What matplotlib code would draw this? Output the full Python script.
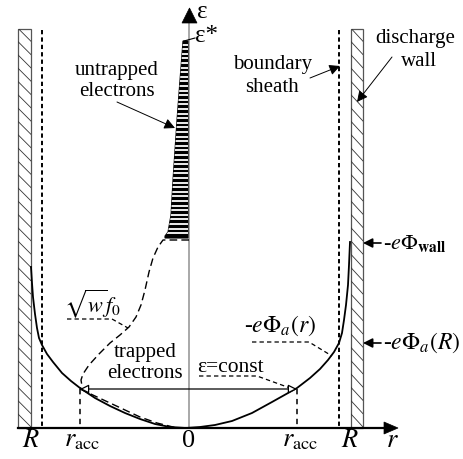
import numpy as np
import matplotlib.pyplot as plt
from matplotlib.patches import Rectangle, Polygon

plt.rcParams['font.family'] = ['Liberation Serif', 'DejaVu Serif']
plt.rcParams['mathtext.fontset'] = 'stix'

# schematic drawn in picture units (x to the right, y downwards)
# wall potential -e*Phi(r), left and right branches
pot_left_x = [31, 32, 33, 35, 37, 39, 42, 47, 53, 62, 71, 80, 95, 110, 125, 140, 155, 170, 186]
pot_left_y = [267, 283, 297, 314, 328, 338, 345, 354, 362, 373, 381, 388, 398, 406, 413, 419, 424, 427, 428]
pot_right_x = [186, 200, 215, 232, 252, 272, 297, 310, 320, 328, 334, 339, 342, 344, 346, 348, 349, 350]
pot_right_y = [428, 427, 425, 421, 413, 402, 388, 378, 369, 360, 352, 343, 333, 320, 305, 285, 265, 242]

# distribution function sqrt(w) f0 (dashed)
f0_x = [189, 163, 158, 153, 149, 145, 141, 136, 129, 120, 110, 99, 89, 83, 81, 82, 80]
f0_y = [240, 240, 247, 258, 272, 290, 305, 317, 327, 335, 343, 354, 365, 374, 380, 386, 389]
f0_low_x = [80, 95, 110, 125, 140, 157, 173, 178]
f0_low_y = [389, 396, 403, 410, 417, 423, 427, 428]

# untrapped electrons: left edge of the striped region
untr_x = [183, 180, 177, 175, 173, 171, 168, 165, 165]
untr_y = [41, 80, 120, 150, 180, 215, 232, 236, 238]

r_acc = (80, 297)
eps_const = 389
sheath_x = (42, 339)
walls_x = ((18, 31), (351, 363))
wall_top, axis_y, axis_x0 = 29, 428, 189

fig = plt.figure(figsize=(4.64, 4.59), dpi=100)
ax = fig.add_axes([0, 0, 1, 1])
ax.set_xlim(0, 464)
ax.set_ylim(459, 0)
ax.axis('off')

# walls with hatching
for x0, x1 in walls_x:
    rect = Rectangle((x0, wall_top), x1 - x0, axis_y - wall_top,
                     fill=False, ec='#555555', lw=0.9, zorder=2)
    ax.add_patch(rect)
    for y0 in np.arange(wall_top - 14, axis_y, 13.3):
        ln, = ax.plot([x0, x1], [y0, y0 + 13], color='#333333', lw=0.6, zorder=2)
        ln.set_clip_path(rect)

# sheath edges
for xs in sheath_x:
    ax.plot([xs, xs], [30, axis_y], color='black', lw=1.4,
            linestyle=(0, (2.2, 1.6)), zorder=2)

# vertical energy axis
ax.plot([axis_x0, axis_x0], [axis_y, 22], color='#999999', lw=1.2, zorder=1)
ax.add_patch(Polygon([[182, 23], [197, 23], [189.5, 8]], closed=True,
                     fc='black', ec='black', lw=0.5, zorder=5))
ax.text(197, 12, 'ε', fontsize=18, ha='left', va='center')
ax.text(195, 36, 'ε*', fontsize=18, ha='left', va='center')
ax.plot([184, 195], [41, 38], color='black', lw=0.8)

# horizontal r axis
ax.plot([18, 386], [axis_y, axis_y], color='black', lw=1.6, zorder=4)
ax.add_patch(Polygon([[384, 422], [384, 434], [398, 428]], closed=True,
                     fc='black', ec='black', lw=0.5, zorder=5))

# striped untrapped electrons
env = Polygon(list(zip(untr_x, untr_y)) + [[188, 238], [188, 41]], closed=True,
              fc='black', ec='black', lw=0.8, zorder=3)
ax.add_patch(env)
for ys in np.arange(44.5, 237, 4.6):
    ln, = ax.plot([150, 190], [ys, ys], color='white', lw=1.3, zorder=3)
    ln.set_clip_path(env)

# potential curve
ax.plot(pot_left_x, pot_left_y, color='black', lw=1.3, zorder=4,
        solid_joinstyle='round')
ax.plot(pot_right_x, pot_right_y, color='black', lw=1.3, zorder=4,
        solid_joinstyle='round')

# f0 dashed
ax.plot(f0_x, f0_y, color='black', lw=1.0, linestyle=(0, (5.5, 3)), zorder=4)
ax.plot(f0_low_x, f0_low_y, color='black', lw=1.0, linestyle=(0, (5.5, 3)), zorder=4)

# r_acc verticals and eps=const arrow
for xr in r_acc:
    ax.plot([xr, xr], [eps_const, axis_y], color='black', lw=1.1,
            linestyle=(0, (3.5, 3)), zorder=3)
ax.annotate('', xy=(r_acc[0], eps_const), xytext=(r_acc[1], eps_const),
            arrowprops=dict(arrowstyle='<|-|>', lw=0.9, color='black',
                            fc='white', mutation_scale=13, shrinkA=0, shrinkB=0),
            zorder=5)

# labels
ax.text(117, 70, 'untrapped', fontsize=15, ha='center', va='center')
ax.text(117, 92, 'electrons', fontsize=15, ha='center', va='center')
ax.annotate('', xy=(175, 128), xytext=(117, 102),
            arrowprops=dict(arrowstyle='-|>', lw=0.7, color='black',
                            mutation_scale=16, shrinkA=0, shrinkB=0))

ax.text(273, 64, 'boundary', fontsize=15, ha='center', va='center')
ax.text(272, 87, 'sheath', fontsize=15, ha='center', va='center')
ax.annotate('', xy=(340, 66), xytext=(310, 78),
            arrowprops=dict(arrowstyle='-|>', lw=0.7, color='black',
                            mutation_scale=16, shrinkA=0, shrinkB=0))

ax.text(415, 39, 'discharge', fontsize=15, ha='center', va='center')
ax.text(419, 61, 'wall', fontsize=15, ha='center', va='center')
ax.annotate('', xy=(357, 102), xytext=(392, 57),
            arrowprops=dict(arrowstyle='-|>', lw=0.7, color='black',
                            mutation_scale=16, shrinkA=0, shrinkB=0))

ax.annotate('', xy=(363, 243), xytext=(381, 243),
            arrowprops=dict(arrowstyle='-|>', lw=1.2, color='black',
                            mutation_scale=14, shrinkA=0, shrinkB=0))
ax.text(383, 243, r'-$e\Phi_{\mathbf{wall}}$', fontsize=16, ha='left', va='center')
ax.annotate('', xy=(363, 343), xytext=(381, 343),
            arrowprops=dict(arrowstyle='-|>', lw=1.2, color='black',
                            mutation_scale=14, shrinkA=0, shrinkB=0))
ax.text(383, 343, r'-$e\Phi_a(R)$', fontsize=17, ha='left', va='center')

ax.text(244, 326, r'-$e\Phi_a(r)$', fontsize=17, ha='left', va='center')
ax.plot([252, 309, 332], [342, 342, 356], color='black', lw=0.9,
        linestyle=(0, (3.5, 2.5)))

ax.text(197, 367, 'ε=const', fontsize=15.5, ha='left', va='center')
ax.plot([199, 257, 290], [376, 376, 388], color='black', lw=0.9,
        linestyle=(0, (3.5, 2.5)))

ax.text(145, 352, 'trapped', fontsize=15, ha='center', va='center')
ax.text(145, 373, 'electrons', fontsize=15, ha='center', va='center')

ax.text(64, 304, r'$\sqrt{w}f_0$', fontsize=16, ha='left', va='center')
ax.plot([67, 112, 128], [319, 319, 328], color='black', lw=0.9,
        linestyle=(0, (3.5, 2.5)))

# bottom labels
ax.text(31, 441, r'$R$', fontsize=19, ha='center', va='center')
ax.text(350, 441, r'$R$', fontsize=19, ha='center', va='center')
ax.text(189, 441, '0', fontsize=19, ha='center', va='center')
ax.text(392, 441, r'$r$', fontsize=19, ha='center', va='center')
ax.text(82, 441, r'$r_{\rm acc}$', fontsize=19, ha='center', va='center')
ax.text(300, 441, r'$r_{\rm acc}$', fontsize=19, ha='center', va='center')

fig.savefig('out.png', dpi=100)
